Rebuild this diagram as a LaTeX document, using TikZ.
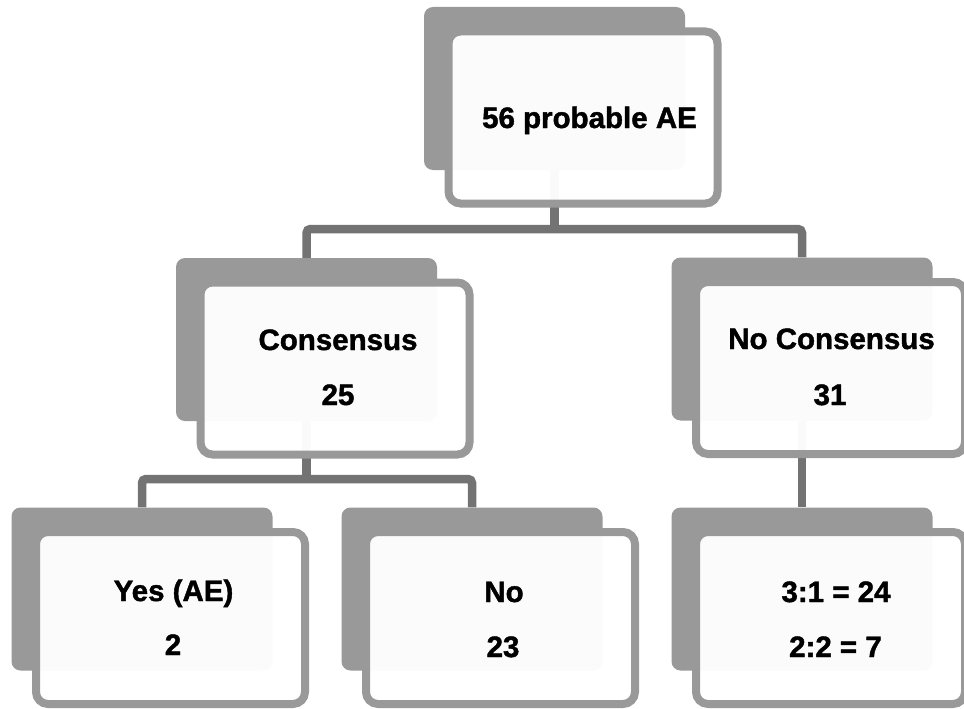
\documentclass[tikz,border=0pt]{standalone}
\usepackage{fontspec}
\setmainfont{Liberation Sans}[BoldFeatures={FakeBold=1.4}]
\definecolor{boxgray}{RGB}{153,153,153}
\definecolor{conngray}{RGB}{115,115,115}
\pgfdeclarelayer{bg}
\pgfsetlayers{bg,main}
\begin{document}
\begin{tikzpicture}[x=1pt,y=-1pt,
  back/.style={rectangle, rounded corners=9pt, fill=boxgray, draw=none, minimum width=261pt, minimum height=163pt, inner sep=0pt},
  front/.style={rectangle, rounded corners=12pt, draw=boxgray, line width=8pt, fill=white, fill opacity=0.97, minimum width=269pt, minimum height=172pt, inner sep=0pt},
  lbl/.style={anchor=base, font=\fontsize{29.5}{34}\selectfont\bfseries, inner sep=0pt},
  conn/.style={draw=conngray, line width=8.5pt, rounded corners=4pt}]
\useasboundingbox (0,0) rectangle (964,709);

% back boxes
\node[back] (topb) at (554.5,88.5) {};
\node[back] (consb) at (306.5,339.5) {};
\node[back] (ncb) at (802,339) {};
\node[back] (yesb) at (142,589) {};
\node[back] (nob) at (472,589) {};
\node[back] (rb) at (802,589) {};

% front boxes
\node[front] (topf) at (583,117.5) {};
\node[front] (consf) at (335,368.5) {};
\node[front] (ncf) at (830.5,368) {};
\node[front] (yesf) at (170.5,618) {};
\node[front] (nof) at (500.5,618) {};
\node[front] (rf) at (830.5,618) {};

% connectors
\coordinate (j1) at (554.5,229);
\coordinate (j2) at (306.5,479);
\begin{pgfonlayer}{bg}
\fill[white] (0,0) rectangle (964,709);
\draw[conn] (topb.south) -- (j1);
\draw[conn] (consb.north) |- (j1) -| (ncb.north);
\draw[conn] (consb.south) -- (j2);
\draw[conn] (yesb.north) |- (j2) -| (nob.north);
\draw[conn] (ncb.south) -- (rb.north);
\end{pgfonlayer}

% labels
\node[lbl] (t0) at (589.5,128) {56 probable AE};
\node[lbl] (t1a) at (338,350) {Consensus};
\node[lbl] (t1b) at (338,405) {25};
\node[lbl] (t2a) at (831.5,349) {No Consensus};
\node[lbl] (t2b) at (830,405) {31};
\node[lbl] (t3a) at (173.5,601) {Yes (AE)};
\node[lbl] (t3b) at (173,655) {2};
\node[lbl] (t4a) at (504,602) {No};
\node[lbl] (t4b) at (503,657) {23};
\node[lbl] (t5a) at (836,602) {3:1 = 24};
\node[lbl] (t5b) at (835.5,657) {2:2 = 7};
\end{tikzpicture}
\end{document}
